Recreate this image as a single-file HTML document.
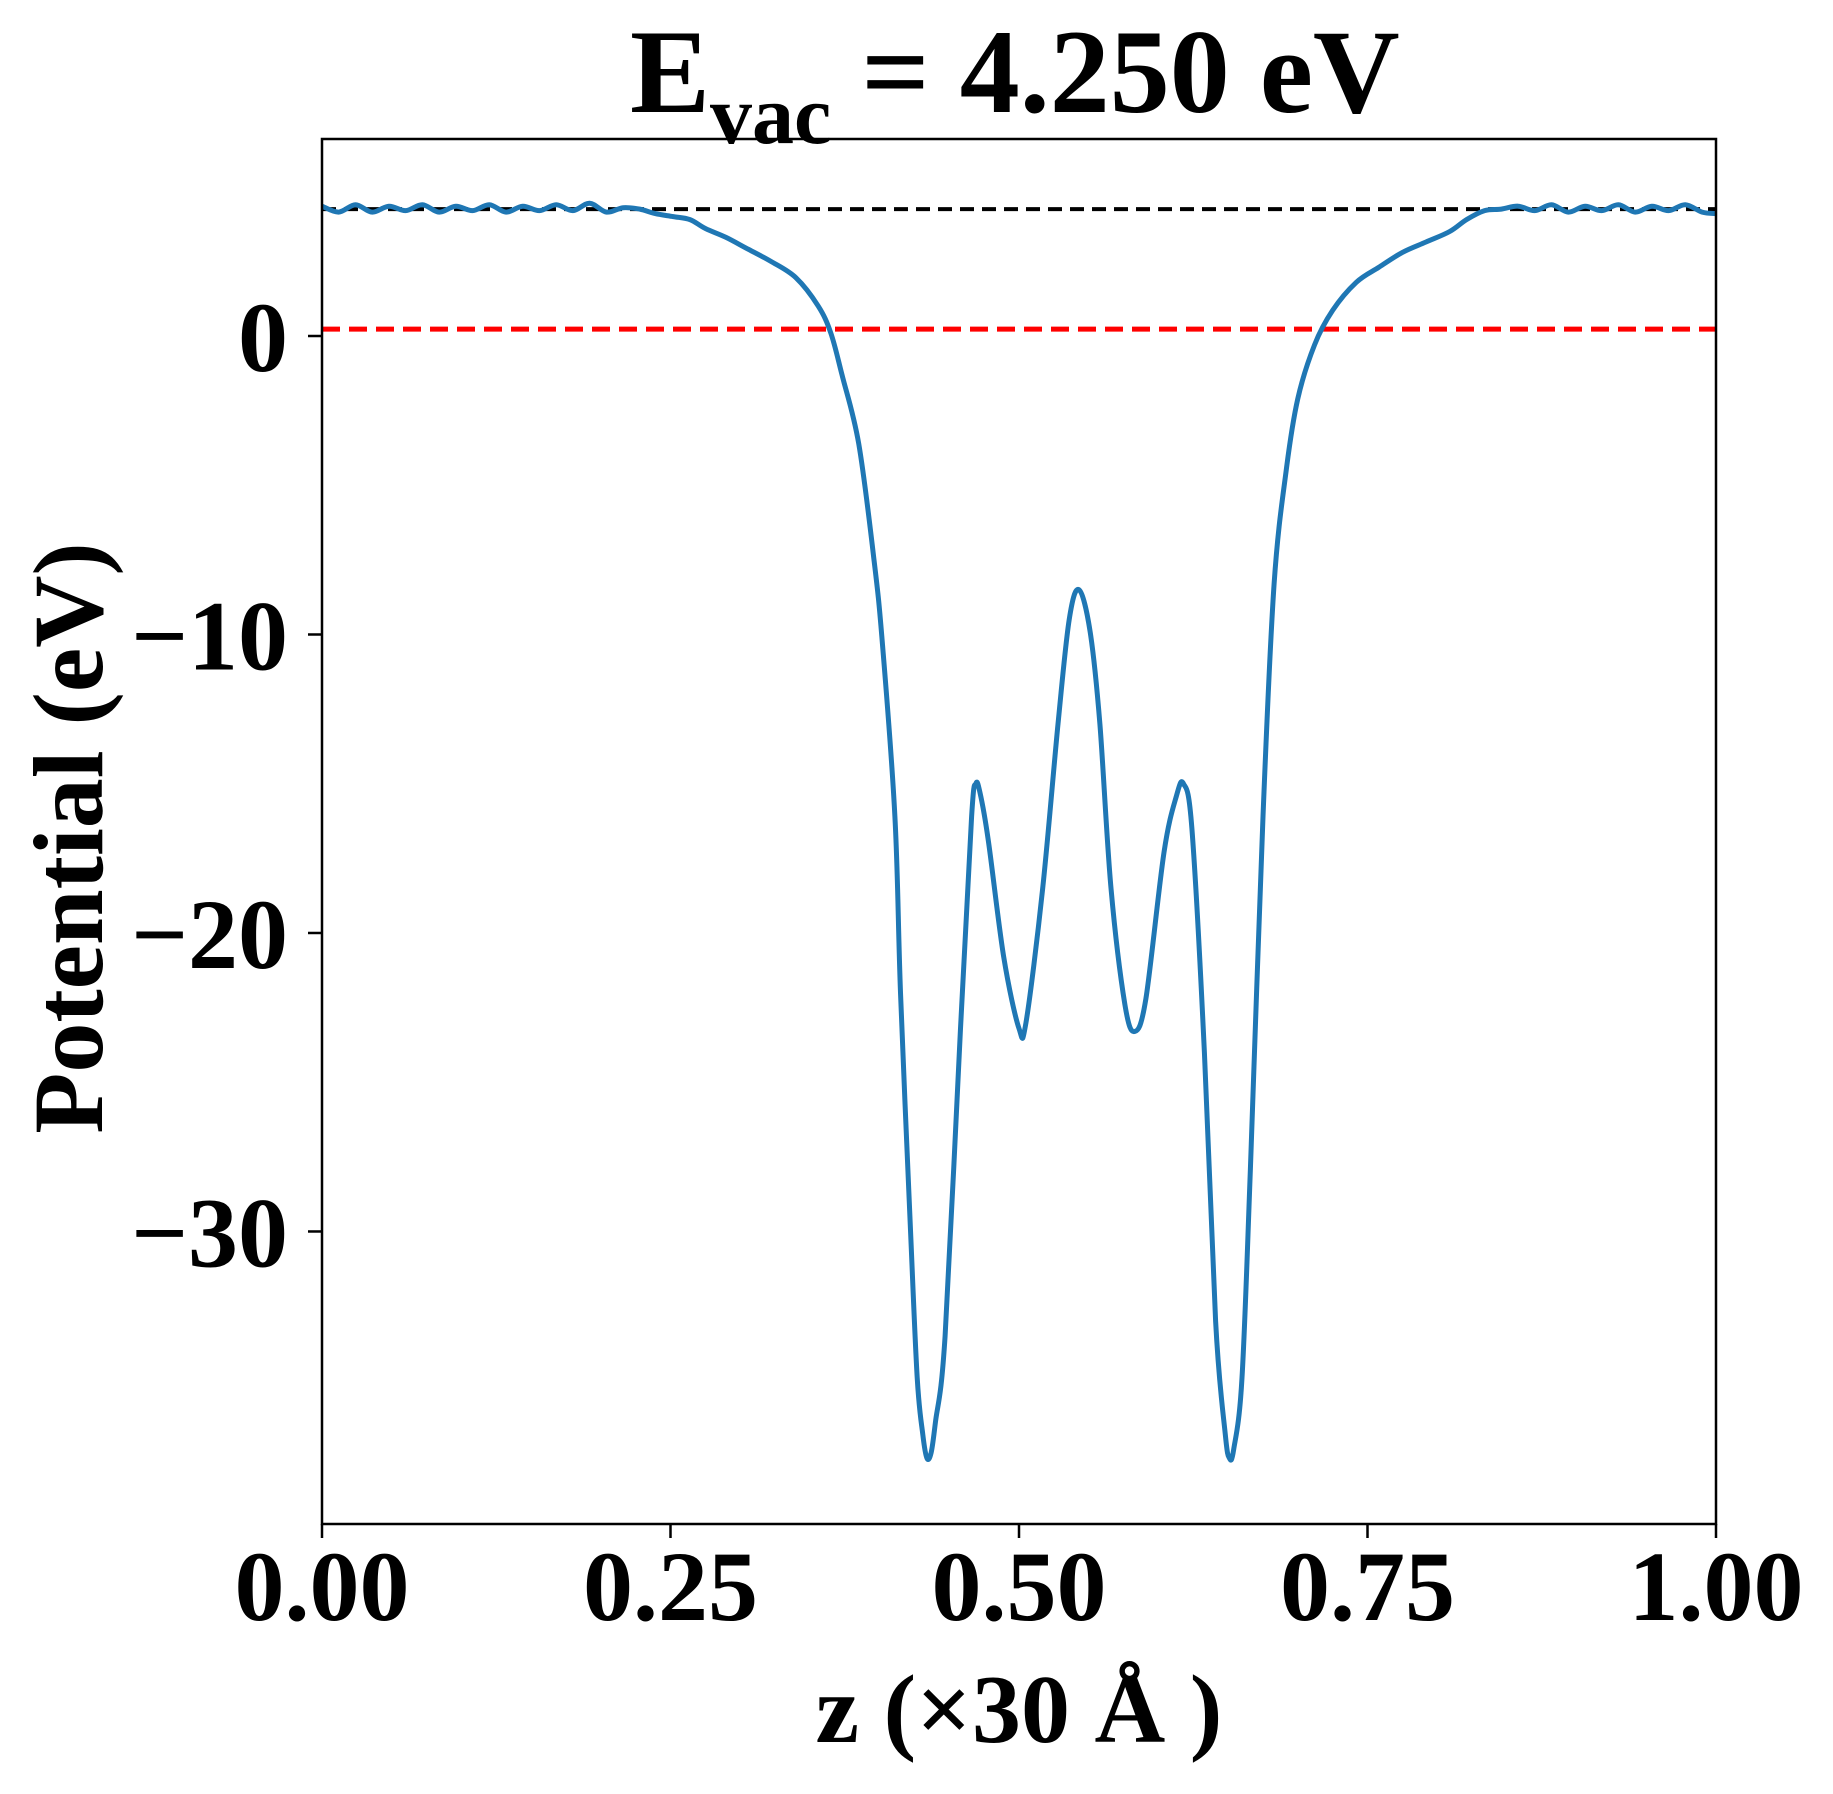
<!DOCTYPE html>
<html><head><meta charset="utf-8"><style>
html,body{margin:0;padding:0;background:#fff}
svg{display:block}
text{font-family:"Liberation Serif","Times New Roman",serif;font-weight:bold;fill:#000}
</style></head><body>
<svg id="chart" width="1833" height="1794" viewBox="0 0 1833 1794" xmlns="http://www.w3.org/2000/svg">
<text x="630" y="112" font-size="120">E<tspan font-size="84" dy="31">vac</tspan><tspan dy="-31"> = 4.250 eV</tspan></text>
<g id="plot"></g>
<text x="1019" y="1742" font-size="98" text-anchor="middle">z (×30 Å )</text>
<text transform="translate(102,838) rotate(-90)" font-size="100" text-anchor="middle">Potential (eV)</text>
</svg>
<script>
const zVals = [0,0.012,0.024,0.036,0.048,0.06,0.072,0.084,0.096,0.108,0.12,0.132,0.144,0.156,0.168,0.18,0.192,0.204,0.216,0.228,0.239,0.252,0.264,0.275,0.29,0.306,0.322,0.34,0.356,0.365,0.373,0.385,0.396,0.402,0.411,0.415,0.422,0.427,0.431,0.434,0.437,0.44,0.447,0.458,0.466,0.469,0.472,0.478,0.489,0.5,0.505,0.517,0.528,0.536,0.543,0.551,0.558,0.566,0.576,0.583,0.591,0.604,0.613,0.618,0.624,0.633,0.641,0.648,0.651,0.654,0.66,0.666,0.675,0.683,0.692,0.7,0.712,0.725,0.742,0.758,0.775,0.792,0.809,0.821,0.834,0.846,0.858,0.87,0.882,0.894,0.906,0.918,0.93,0.942,0.954,0.966,0.978,0.99,1.0];
const potVals = [4.35,4.15,4.4,4.15,4.35,4.2,4.4,4.15,4.35,4.2,4.4,4.15,4.35,4.2,4.4,4.2,4.45,4.15,4.3,4.25,4.1,4.0,3.9,3.6,3.3,2.9,2.5,1.95,1.0,0.1,-1.3,-3.6,-7.5,-10.3,-16.1,-22,-29.8,-34.9,-36.8,-37.6,-37.4,-36.4,-33.5,-23.2,-16.1,-15.0,-15.3,-16.9,-20.8,-23.2,-23.0,-18.5,-13,-9.5,-8.5,-9.9,-13,-18.5,-22.4,-23.3,-22.2,-17.3,-15.4,-15,-16.5,-24,-33,-36.8,-37.6,-37.3,-34.9,-27.9,-16.1,-8.3,-4.4,-2.1,-0.3,0.86,1.8,2.3,2.8,3.15,3.5,3.9,4.2,4.25,4.35,4.2,4.4,4.15,4.35,4.2,4.4,4.15,4.35,4.2,4.4,4.15,4.1];
const vacuumLevel = 4.25;
const fermiLevel = 0.23;
const xTicks = [0,0.25,0.5,0.75,1.0];
const xTickLabels = ["0.00","0.25","0.50","0.75","1.00"];
const yTicks = [0,-10,-20,-30];
const yTickLabels = ["0","\u221210","\u221220","\u221230"];

const L=322,R=1716,T=139,B=1524;
const yMax=6.6, yMin=-39.8;
const sx=v=>L+(v-0)/(1-0)*(R-L);
const sy=v=>T+(yMax-v)/(yMax-yMin)*(B-T);
const NS="http://www.w3.org/2000/svg";
const g=document.getElementById('plot');
function mk(tag,attrs){const e=document.createElementNS(NS,tag);for(const k in attrs)e.setAttribute(k,attrs[k]);g.appendChild(e);return e;}

const vac=mk('line',{x1:L,x2:R,y1:sy(vacuumLevel),y2:sy(vacuumLevel),stroke:'#000','stroke-width':4,'stroke-dasharray':'14,8'});


const fer=mk('line',{x1:L,x2:R,y1:sy(fermiLevel),y2:sy(fermiLevel),stroke:'#ff0000','stroke-width':5,'stroke-dasharray':'18,9'});



const pts=zVals.map((z,i)=>[sx(z),sy(potVals[i])]);
let d='M'+pts[0][0].toFixed(1)+','+pts[0][1].toFixed(1);
for(let i=0;i<pts.length-1;i++){
  const p0=pts[Math.max(0,i-1)],p1=pts[i],p2=pts[i+1],p3=pts[Math.min(pts.length-1,i+2)];
  const c1=[p1[0]+(p2[0]-p0[0])/6,p1[1]+(p2[1]-p0[1])/6];
  const c2=[p2[0]-(p3[0]-p1[0])/6,p2[1]-(p3[1]-p1[1])/6];
  d+='C'+c1[0].toFixed(1)+','+c1[1].toFixed(1)+' '+c2[0].toFixed(1)+','+c2[1].toFixed(1)+' '+p2[0].toFixed(1)+','+p2[1].toFixed(1);
}
const curve=mk('path',{d:d,fill:'none',stroke:'#1f77b4','stroke-width':5,'stroke-linejoin':'round'});



const frame=mk('rect',{x:L,y:T,width:R-L,height:B-T,fill:'none',stroke:'#000','stroke-width':2.5});



xTicks.forEach((v,i)=>{
  const t=mk('line',{x1:sx(v),x2:sx(v),y1:B,y2:B+14,stroke:'#000','stroke-width':2.5});
  
  
  const lb=mk('text',{x:sx(v),y:1620,'font-size':100,'text-anchor':'middle'});
  lb.textContent=xTickLabels[i];
  
  
});
yTicks.forEach((v,i)=>{
  const t=mk('line',{x1:L-14,x2:L,y1:sy(v),y2:sy(v),stroke:'#000','stroke-width':2.5});
  
  
  const lb=mk('text',{x:288,y:sy(v)+35,'font-size':100,'text-anchor':'end'});
  lb.textContent=yTickLabels[i];
  
  
});
</script>
</body></html>
